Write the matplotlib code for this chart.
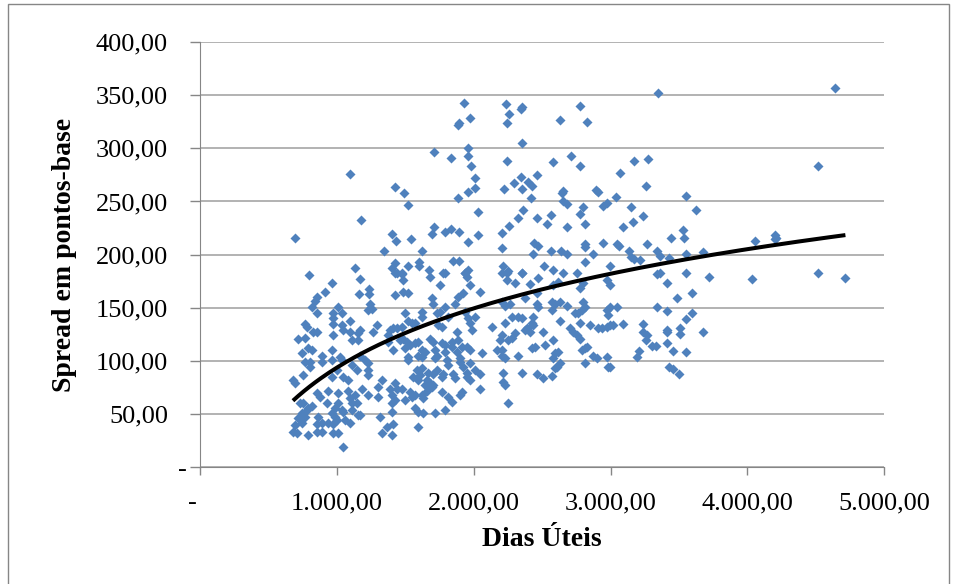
import matplotlib.pyplot as plt
from matplotlib.ticker import FuncFormatter
from matplotlib.patches import Rectangle
from matplotlib.transforms import ScaledTranslation
import numpy as np

# pontos (dias uteis, spread em pontos-base)
dias_uteis = [
    1095, 1175, 693, 1343, 796, 1132, 1168, 964, 1161, 1234, 1234, 912, 854, 840, 818,
    854, 1007, 1037, 971, 971, 971, 1095, 1037, 1044, 1095, 1168, 1153, 1241, 1226, 1256,
    1292, 1263, 766, 781, 825, 854, 716, 766, 971, 1110, 1153, 1372, 1372, 788, 818,
    745, 766, 890, 964, 964, 1022, 1037, 1168, 1204, 1226, 803, 803, 890, 1000, 1110,
    1226, 1226, 679, 693, 752, 964, 1044, 1080, 1146, 1183, 1299, 1329, 854, 876, 934,
    1007, 1080, 1095, 1132, 1146, 1226, 1299, 730, 752, 788, 818, 927, 986, 1007, 1037,
    1110, 1110, 1168, 745, 766, 781, 716, 745, 862, 890, 854, 964, 986, 934, 971,
    1000, 1044, 1058, 1095, 1153, 1314, 693, 679, 708, 788, 854, 890, 971, 1007, 1044,
    1329, 1365,
    1927, 1971, 1883, 1891, 1708, 1832, 1956, 1956, 1978, 2008, 2008, 1956, 1883, 1424,
    1489, 1518, 2029, 1402, 1431, 1540, 1708, 1694, 1789, 1832, 1891, 1956, 2029, 1621,
    1424, 1402, 1438, 1475, 1518, 1599, 1599, 1672, 1789, 1847, 1891, 1956, 1935,
    1424, 1475, 1482, 1679, 1774, 1935, 1949, 1424, 1482, 1518, 1752, 1971, 2044, 1694,
    1701, 1883, 1920, 1862, 1497, 1621, 1621, 1730, 1752, 1789, 1810, 1935, 1956, 2008,
    1518, 1548, 1570, 1387, 1409, 1438, 1475, 1737, 1767, 1876, 1971, 1986, 2132, 1460,
    1482, 1511, 1533, 1570, 1591, 1409, 1497, 1621, 1643, 1679, 1701, 1767, 1789, 1840,
    1840, 1883, 1913, 1949, 1971, 2059, 2168, 1716, 1730, 1716, 1518, 1518, 1591, 1621,
    1789, 1876, 1898, 1803, 1810, 1898, 1920, 1971, 1584, 1621, 1665, 1701, 1730, 1774,
    1767, 1847, 1862, 1949, 1971, 1949, 2008, 2044, 1555, 1591, 1606, 1657, 1679, 1701,
    1694, 1643, 1657, 1424, 1438, 1387, 1475, 1767, 1810, 1840, 1913, 1898, 2044, 1533,
    1548, 1570, 1621, 1628, 1402, 1424, 1402, 1497, 1570, 1591, 1628, 1789, 1716, 1402,
    1409, 1402, 1591,
    2234, 2256, 2241, 2343, 2351, 2628, 2774, 2825, 2351, 2241, 2577, 2708, 2774, 2343,
    2292, 2219, 2351, 2394, 2424, 2460, 2416, 2643, 2650, 2650, 2679, 2891, 2905, 2796,
    2774, 2942, 2971, 2358, 2321, 2460, 2562, 2533, 2256, 2205, 2679, 2810, 2205, 2438,
    2467, 2562, 2431, 2635, 2679, 2810, 2810, 2942, 2869, 2810, 2212, 2248, 2241, 2351,
    2511, 2577, 2650, 2752, 2993,
    2205, 2241, 2300, 2351, 2467, 2409, 2577, 2613, 2774, 2796, 2971, 2372, 2460, 2205,
    2227, 2263, 2460, 2467, 2570, 2592, 2628, 2679, 2570, 2796, 2810, 2789, 2759, 2738,
    2971, 2978, 2278, 2321, 2351, 2431, 2424, 2628, 2774, 2847, 2227, 2387, 2409, 2372,
    2431, 2504, 2701, 2723, 2752, 2905, 2935, 2971, 2205, 2248, 2278, 2300, 2190, 2577,
    2518, 2774, 2424, 2445, 2613, 2592, 2789, 2810, 2825, 2869, 2898, 2971, 2205, 2205,
    2227, 2321, 2577, 2628, 2606, 2810, 2978, 2592, 2351, 2460, 2504, 2570, 2212, 2212,
    2227, 2248,
    3343, 3168, 3270, 3066, 3256, 3037, 3548, 3146, 3234, 3161, 3088, 3621, 3438, 3526,
    3533, 3044, 3059, 3263, 3132, 3336, 3358, 3548, 3679, 3146, 3168, 3212, 3424, 3336,
    3358, 3548, 3716,
    3416, 3592, 3482, 2993, 3044, 2993, 3336, 3409, 3592, 3548, 2993, 3015, 3088, 3234,
    3234, 3263, 3256, 3416, 3416, 3504, 3504, 3672, 3300, 3329, 3409, 3205, 3190, 3453,
    3548, 2993, 3424, 3453, 3497,
    4643, 4519, 4052, 4205, 4212, 4198, 4030, 4519, 4716,
]
spread = [
    276, 233, 216, 203, 181, 187, 177, 173, 163, 168, 163, 165, 160, 156, 151,
    145, 151, 145, 145, 140, 135, 138, 134, 129, 127, 129, 126, 154, 148, 149,
    134, 127, 135, 132, 127, 127, 121, 122, 124, 120, 120, 124, 118, 112, 110,
    107, 99, 105, 110, 101, 104, 101, 105, 101, 98, 99, 94, 99, 91, 96,
    91, 87, 82, 79, 87, 85, 85, 82, 91, 74, 75, 82, 70, 66, 72,
    70, 72, 65, 68, 60, 68, 66, 60, 60, 56, 58, 60, 56, 60, 54,
    60, 54, 49, 51, 47, 54, 46, 42, 47, 42, 41, 51, 47, 42, 41,
    44, 52, 44, 42, 49, 47, 40, 33, 32, 30, 33, 33, 32, 32, 19,
    32, 38,
    343, 329, 322, 324, 297, 291, 300, 293, 283, 272, 263, 259, 253, 264,
    258, 247, 240, 219, 213, 215, 226, 219, 221, 224, 221, 212, 218, 203,
    192, 187, 183, 183, 189, 193, 189, 186, 183, 194, 194, 186, 183,
    183, 182, 176, 179, 183, 183, 179, 162, 165, 164, 171, 171, 165, 159,
    154, 160, 164, 154, 145, 146, 141, 145, 146, 151, 141, 146, 140, 141,
    138, 136, 136, 129, 131, 131, 132, 134, 132, 127, 136, 129, 132, 120,
    121, 118, 115, 117, 118, 110, 112, 110, 108, 121, 118, 117, 115, 118,
    113, 120, 113, 113, 110, 107, 110, 110, 105, 103, 104, 101, 105, 104,
    108, 108, 103, 101, 96, 99, 94, 98, 91, 93, 89, 88, 91, 88,
    85, 88, 84, 89, 82, 85, 91, 88, 85, 82, 87, 82, 79, 77,
    75, 77, 72, 79, 74, 74, 74, 71, 66, 61, 71, 68, 74, 71,
    66, 68, 68, 65, 68, 63, 60, 63, 56, 52, 51, 54, 51, 52,
    41, 30, 38,
    342, 332, 324, 337, 339, 327, 340, 325, 305, 288, 287, 293, 283, 273,
    267, 262, 262, 268, 265, 275, 253, 258, 260, 250, 248, 261, 259, 245,
    238, 246, 249, 242, 234, 234, 237, 229, 227, 220, 226, 229, 206, 211,
    208, 203, 201, 203, 201, 210, 207, 211, 201, 193, 189, 185, 183, 183,
    189, 186, 183, 183, 189,
    183, 176, 173, 183, 178, 172, 171, 174, 169, 173, 176, 159, 164, 155,
    152, 154, 154, 151, 155, 154, 155, 152, 148, 155, 151, 148, 145, 145,
    148, 143, 141, 141, 140, 141, 136, 138, 136, 134, 136, 131, 127, 129,
    134, 127, 131, 127, 124, 131, 131, 132, 124, 120, 122, 126, 120, 120,
    115, 121, 112, 113, 108, 107, 110, 112, 113, 105, 103, 104, 110, 105,
    103, 105, 103, 98, 94, 98, 94, 93, 89, 88, 84, 86, 89, 80,
    77, 60,
    352, 288, 290, 277, 265, 254, 255, 245, 236, 231, 226, 242, 216, 223,
    216, 210, 208, 210, 203, 203, 199, 201, 202, 198, 196, 195, 197, 182,
    183, 183, 179,
    173, 164, 159, 171, 151, 151, 151, 147, 145, 139, 134, 134, 135, 135,
    127, 124, 120, 129, 127, 131, 125, 127, 114, 114, 117, 109, 104, 109,
    108, 94, 94, 92, 88,
    357, 283, 213, 218, 216, 215, 177, 183, 178,
]

# linha de tendencia logaritmica do Excel: y = a*ln(x) + b
trend_a = 80.4
trend_b = -461.7

x_ticks = [0, 1000, 2000, 3000, 4000, 5000]
y_ticks = [0, 50, 100, 150, 200, 250, 300, 350, 400]


def fmt_br(v, pos=None):
    if v == 0:
        return '-'
    s = f"{v:,.2f}"
    return s.replace(',', 'X').replace('.', ',').replace('X', '.')


x = np.array(dias_uteis, dtype=float)
y = np.array(spread, dtype=float)

xt = np.linspace(x.min(), x.max(), 200)
yt = trend_a * np.log(xt) + trend_b

plt.rcParams['font.family'] = ['Liberation Serif', 'DejaVu Serif']

fig = plt.figure(figsize=(9.57, 5.84), dpi=100)
ax = fig.add_axes([0.209, 0.200, 0.715, 0.728])

ax.scatter(x, y, marker='D', s=26, color='#4F81BD', linewidths=0, zorder=3)
ax.plot(xt, yt, color='black', lw=2.9, zorder=4, solid_capstyle='butt')

ax.set_xlim(0, 5000)
ax.set_ylim(0, 400)
ax.set_xticks(x_ticks)
ax.set_yticks(y_ticks)
ax.xaxis.set_major_formatter(FuncFormatter(fmt_br))
ax.yaxis.set_major_formatter(FuncFormatter(fmt_br))
ax.tick_params(axis='both', labelsize=19, color='#868686', width=1)
ax.tick_params(axis='x', length=6, pad=12)
ax.tick_params(axis='y', length=7, pad=16)

ax.grid(axis='y', color='#A6A6A6', lw=1.2)
ax.set_axisbelow(True)
for s in ['top', 'right']:
    ax.spines[s].set_visible(False)
for s in ['left', 'bottom']:
    ax.spines[s].set_color('#868686')

ax.set_xlabel('Dias Úteis', fontsize=20, fontweight='bold')
ax.set_ylabel('Spread em pontos-base', fontsize=20, fontweight='bold')
ax.xaxis.set_label_coords(0.5, -0.14)
ax.yaxis.set_label_coords(-0.18, 0.5)

# o "-" do zero fica deslocado como no formato contabil do Excel
fig.canvas.draw()
ax.get_yticklabels()[0].set_transform(
    ax.get_yticklabels()[0].get_transform() + ScaledTranslation(0.19, 0, fig.dpi_scale_trans))
ax.get_xticklabels()[0].set_transform(
    ax.get_xticklabels()[0].get_transform() + ScaledTranslation(-0.08, 0, fig.dpi_scale_trans))

# moldura externa do grafico
fig.patches.append(Rectangle((0.008, -0.05), 0.984, 1.043, transform=fig.transFigure,
                             fill=False, edgecolor='#868686', lw=1))

fig.savefig('out.png', dpi=100)
